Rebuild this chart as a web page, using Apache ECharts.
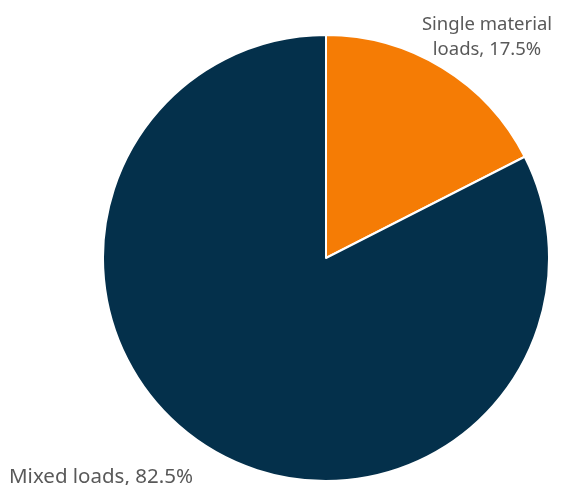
<!DOCTYPE html>
<html><head><meta charset="utf-8">
<script src="https://cdn.jsdelivr.net/npm/echarts@6/dist/echarts.min.js"></script>
<style>html,body{margin:0;padding:0;background:#fff}#c{width:568px;height:485px}</style>
</head><body><div id="c"></div>
<script>
const categories = ['Single material\nloads', 'Mixed loads'];
const values = [17.5, 82.5];
const colors = ['#F57C05', '#04304B'];
const labelPos = [{x: 487, y: 37, align: 'center', size: 18.5}, {x: 9, y: 477, align: 'left', size: 20.5}];

const chart = echarts.init(document.getElementById('c'));
chart.setOption({
  animation: false,
  series: [{
    type: 'pie',
    center: [326, 258],
    radius: 223,
    startAngle: 90,
    clockwise: true,
    data: categories.map((n, i) => ({
      name: n, value: values[i], itemStyle: {color: colors[i]},
      label: {fontSize: labelPos[i].size}
    })),
    itemStyle: {borderColor: '#fff', borderWidth: 2},
    label: {
      show: true,
      formatter: p => p.name + ', ' + p.value.toFixed(1) + '%',
      fontFamily: 'Noto Sans',
      color: '#595959',
      lineHeight: 25,
      overflow: 'none',
      width: 300
    },
    labelLine: {show: false},
    labelLayout: p => {
      const lp = labelPos[p.dataIndex];
      return {x: lp.x, y: lp.y, align: lp.align, verticalAlign: 'middle'};
    }
  }]
});
</script></body></html>
